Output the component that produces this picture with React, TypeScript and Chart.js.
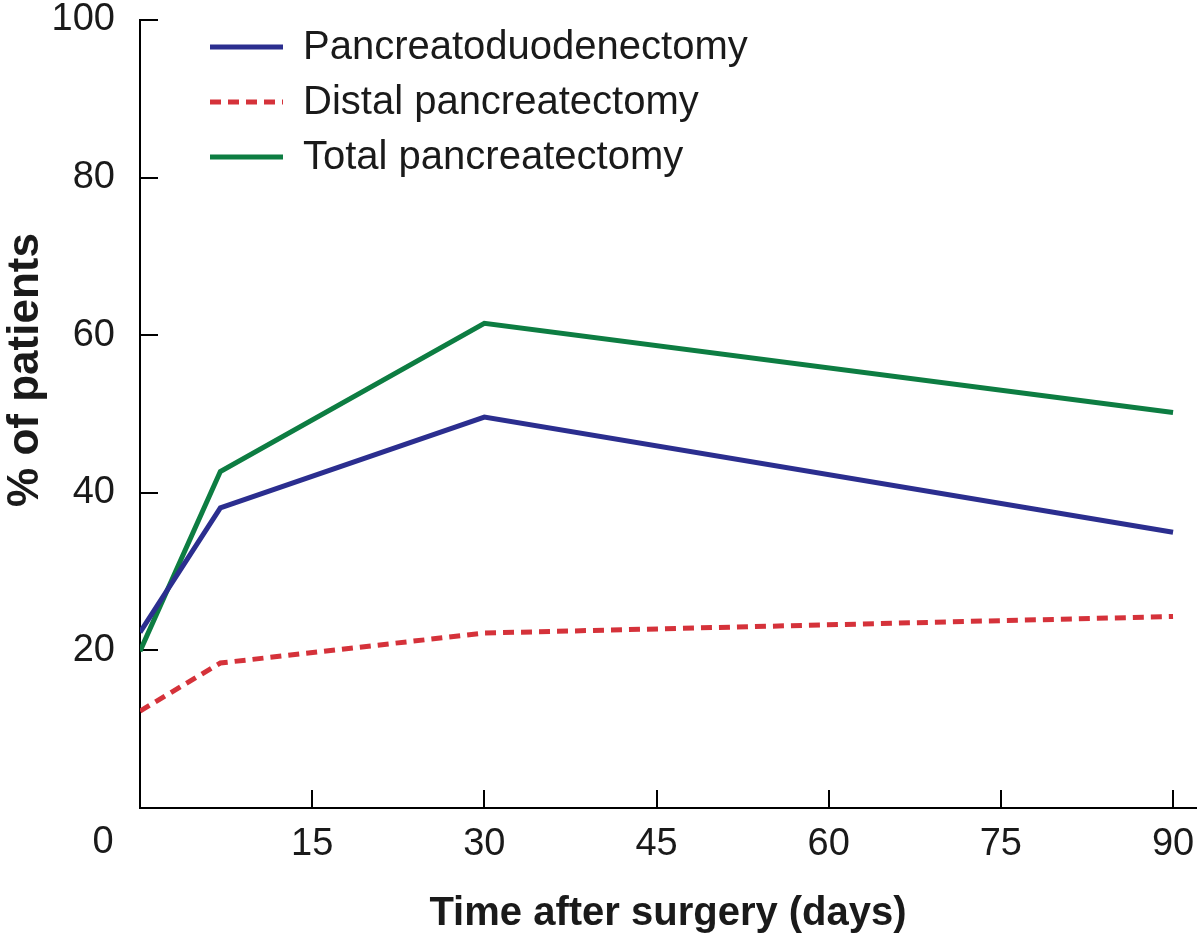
import { useEffect, useRef } from "react";
import { Chart, registerables } from "chart.js";

Chart.register(...registerables);

// días tras la cirugía y % de pacientes
const days = [0, 7, 30, 90];
const pancreatoduodenectomy = [22.3, 38.1, 49.6, 35.0];
const distalPancreatectomy = [12.3, 18.4, 22.2, 24.3];
const totalPancreatectomy = [19.9, 42.7, 61.5, 50.2];

const seriesLabels = [
  "Pancreatoduodenectomy",
  "Distal pancreatectomy",
  "Total pancreatectomy",
];

const xTickValues = [15, 30, 45, 60, 75, 90];
const yTickValues = [20, 40, 60, 80, 100];
const originLabel = "0";
const xTitle = "Time after surgery (days)";
const yTitle = "% of patients";

const FONT = "'Liberation Sans', Arial, Helvetica, sans-serif";

const toPoints = (ys: number[]) => ys.map((y, i) => ({ x: days[i], y }));

// leyenda dentro del área del gráfico, el "0" de la esquina y el título vertical
const annotations = {
  id: "annotations",
  afterDraw(chart: any) {
    const { ctx, chartArea } = chart;
    ctx.save();

    chart.data.datasets.forEach((ds: any, i: number) => {
      const y = chartArea.top + 27 + i * 55;
      ctx.beginPath();
      ctx.strokeStyle = ds.borderColor;
      ctx.lineWidth = ds.borderWidth;
      ctx.setLineDash(ds.borderDash || []);
      ctx.moveTo(chartArea.left + 70, y);
      ctx.lineTo(chartArea.left + 143, y);
      ctx.stroke();
      ctx.setLineDash([]);
      ctx.fillStyle = "#1a1a1a";
      ctx.font = `40px ${FONT}`;
      ctx.textAlign = "left";
      ctx.textBaseline = "middle";
      ctx.fillText(ds.label, chartArea.left + 163, y + 1);
    });

    ctx.fillStyle = "#1a1a1a";
    ctx.font = `38px ${FONT}`;
    ctx.textAlign = "center";
    ctx.textBaseline = "middle";
    ctx.fillText(originLabel, chartArea.left - 37, chartArea.bottom + 35);

    ctx.translate(26, 370);
    ctx.rotate(-Math.PI / 2);
    ctx.font = `bold 44px ${FONT}`;
    ctx.fillText(yTitle, 0, 0);
    ctx.restore();
  },
};

export default function App() {
  const canvasRef = useRef<HTMLCanvasElement>(null);

  useEffect(() => {
    document.body.style.margin = "0";
    if (!canvasRef.current) return;

    const chart = new Chart(canvasRef.current, {
      type: "line",
      data: {
        datasets: [
          {
            label: seriesLabels[0],
            data: toPoints(pancreatoduodenectomy),
            borderColor: "#2b2e8f",
            borderWidth: 5,
            pointRadius: 0,
            tension: 0,
          },
          {
            label: seriesLabels[1],
            data: toPoints(distalPancreatectomy),
            borderColor: "#d5323a",
            borderWidth: 5,
            borderDash: [11, 7],
            pointRadius: 0,
            tension: 0,
          },
          {
            label: seriesLabels[2],
            data: toPoints(totalPancreatectomy),
            borderColor: "#0d7d42",
            borderWidth: 5,
            pointRadius: 0,
            tension: 0,
          },
        ],
      },
      options: {
        animation: false,
        responsive: false,
        devicePixelRatio: 1,
        layout: { padding: { left: 0, top: 20, right: 4, bottom: 0 } },
        plugins: {
          legend: { display: false },
          tooltip: { enabled: false },
        },
        scales: {
          x: {
            type: "linear",
            min: 0,
            max: 92,
            afterBuildTicks: (s: any) => {
              s.ticks = xTickValues.map((v) => ({ value: v }));
            },
            afterFit: (s: any) => {
              s.height = 130;
              s.paddingLeft = 0;
              s.paddingRight = 0;
            },
            border: { color: "#000", width: 2 },
            grid: {
              drawOnChartArea: false,
              color: "#000",
              lineWidth: 2,
              tickLength: -18,
            },
            ticks: {
              color: "#1a1a1a",
              font: { family: FONT, size: 38 },
              padding: 32,
              maxRotation: 0,
            },
            title: {
              display: true,
              text: xTitle,
              color: "#1a1a1a",
              font: { family: FONT, size: 40, weight: "bold" },
              padding: { top: 24, bottom: 0 },
            },
          },
          y: {
            min: 0,
            max: 100,
            afterBuildTicks: (s: any) => {
              s.ticks = yTickValues.map((v) => ({ value: v }));
            },
            afterFit: (s: any) => {
              s.width = 140;
              s.paddingTop = 0;
              s.paddingBottom = 0;
            },
            border: { color: "#000", width: 2 },
            grid: {
              drawOnChartArea: false,
              color: "#000",
              lineWidth: 2,
              tickLength: -18,
            },
            ticks: {
              color: "#1a1a1a",
              font: { family: FONT, size: 38 },
              padding: 43,
            },
          },
        },
      },
      plugins: [annotations],
    });

    return () => chart.destroy();
  }, []);

  return (
    <div style={{ width: 1200, height: 938, background: "#fff" }}>
      <canvas ref={canvasRef} width={1200} height={938} />
    </div>
  );
}
